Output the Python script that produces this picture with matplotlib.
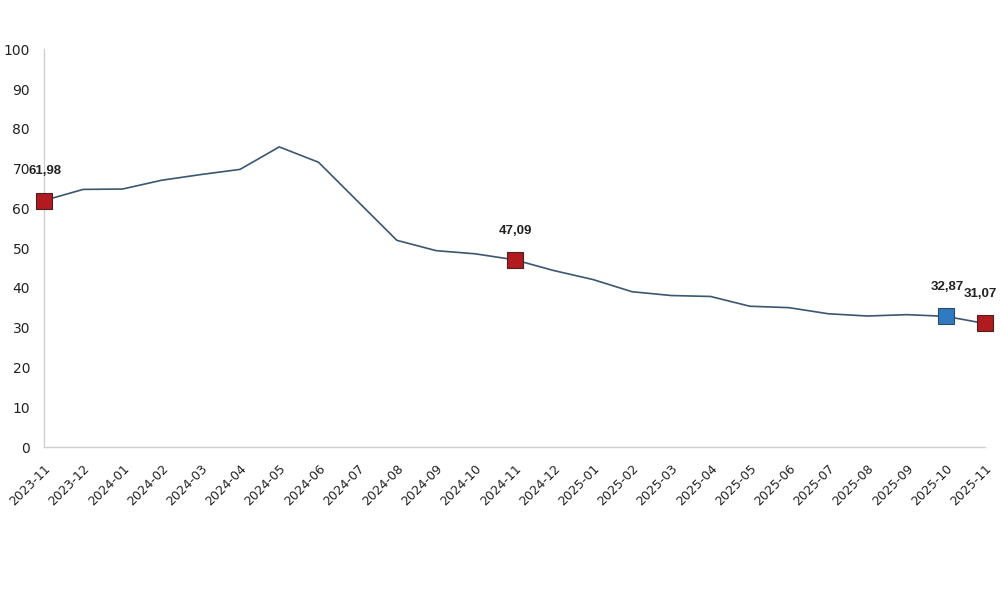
import matplotlib
matplotlib.use("Agg")
import matplotlib.pyplot as plt

months = ["2023-11", "2023-12", "2024-01", "2024-02", "2024-03", "2024-04", "2024-05",
          "2024-06", "2024-07", "2024-08", "2024-09", "2024-10", "2024-11", "2024-12",
          "2025-01", "2025-02", "2025-03", "2025-04", "2025-05", "2025-06", "2025-07",
          "2025-08", "2025-09", "2025-10", "2025-11"]
values = [61.98, 64.77, 64.86, 67.07, 68.50, 69.80, 75.45, 71.60, 61.78, 51.97,
          49.38, 48.58, 47.09, 44.38, 42.12, 39.05, 38.10, 37.86, 35.41, 35.05,
          33.52, 32.95, 33.29, 32.87, 31.07]
highlight_red = ["2023-11", "2024-11", "2025-11"]
highlight_blue = ["2025-10"]
y_ticks = [0, 10, 20, 30, 40, 50, 60, 70, 80, 90, 100]

plt.rcParams['font.family'] = ['DejaVu Sans']

fig = plt.figure(figsize=(10, 5.93), dpi=100)
ax = fig.add_axes([0.044, 0.246, 0.941, 0.671])

x = list(range(len(months)))
ax.plot(x, values, color="#3b5670", linewidth=1.2, zorder=2)

def fmt(v):
    return f"{v:.2f}".replace(".", ",")

last = len(months) - 1
for m, col in [(m, "#b11a1f") for m in highlight_red] + [(m, "#2f7ac0") for m in highlight_blue]:
    i = months.index(m)
    ax.plot(i, values[i], marker="s", markersize=11, color=col,
            markeredgecolor="#4a2020" if col == "#b11a1f" else "#2a4a6a",
            markeredgewidth=0.8, zorder=3, clip_on=False)
    dx = -3 if i == last else 1
    ax.annotate(fmt(values[i]), (i, values[i]), xytext=(dx, 21), textcoords="offset points",
                ha="center", va="center", fontsize=9.5, fontweight="bold", color="#222222",
                family=["Liberation Sans", "DejaVu Sans"], annotation_clip=False)

ax.set_xlim(0, len(months) - 1)
ax.set_ylim(0, 100)
ax.set_yticks(y_ticks)
ax.set_yticklabels([str(t) for t in y_ticks], fontsize=10, color="#222222")
ax.set_xticks(x)
ax.set_xticklabels(months, rotation=45, ha="right", va="top", rotation_mode="anchor",
                   fontsize=9, color="#222222")
ax.tick_params(axis="y", length=0, pad=10)
ax.tick_params(axis="x", length=0, pad=11)

for s in ["top", "right"]:
    ax.spines[s].set_visible(False)
for s in ["left", "bottom"]:
    ax.spines[s].set_color("#d0d0d0")
    ax.spines[s].set_linewidth(1.0)

fig.savefig("out.png", dpi=100, facecolor="white")
